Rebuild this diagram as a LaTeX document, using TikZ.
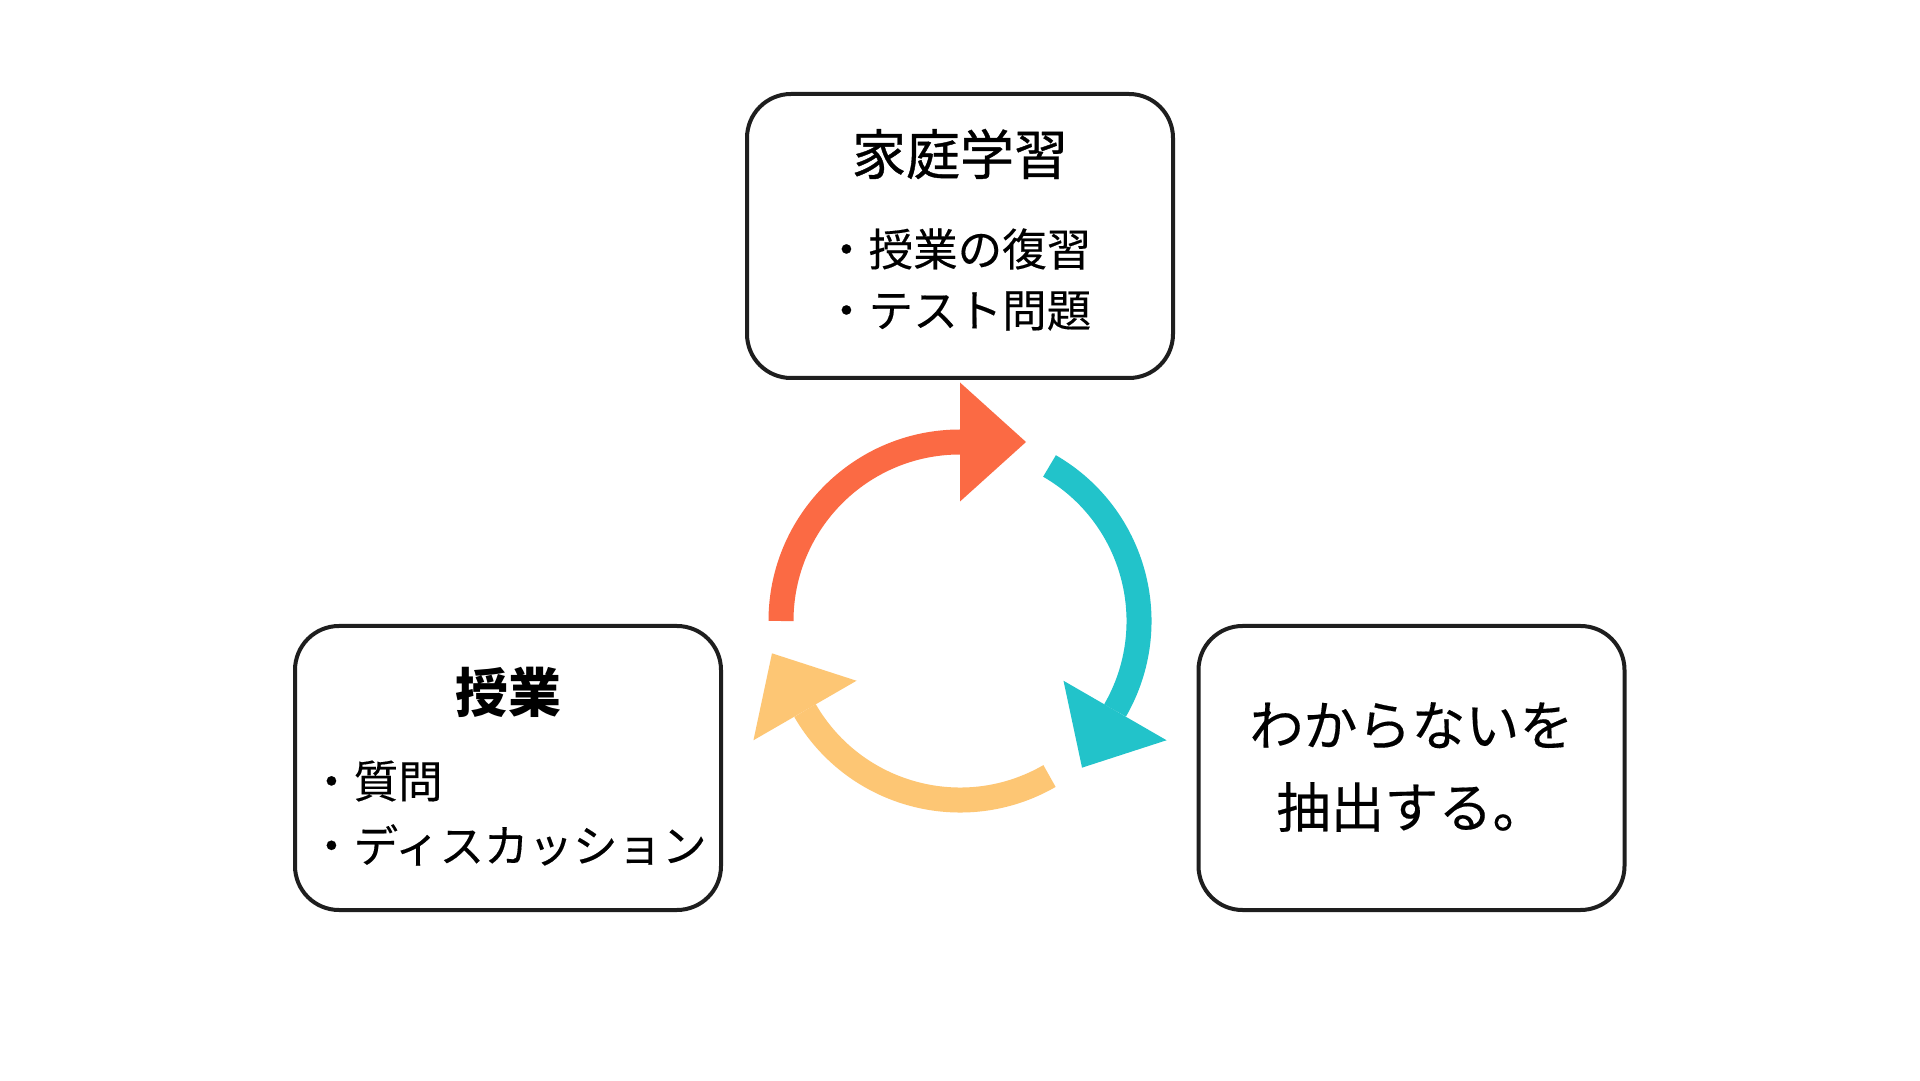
\documentclass[tikz,border=0pt]{standalone}
\usepackage{fontspec}
\usetikzlibrary{calc}
\newfontfamily\jp{Noto Sans CJK JP}
\newfontfamily\jpmed[FakeBold=0.7]{Noto Sans CJK JP}
\newfontfamily\jpitem[FakeBold=0.3]{Noto Sans CJK JP}
\definecolor{arcorange}{HTML}{FB6A44}
\definecolor{arcteal}{HTML}{22C3CA}
\definecolor{arcyellow}{HTML}{FDC674}
\definecolor{boxline}{HTML}{1E1E1E}
\tikzset{
  card/.style={draw=boxline, line width=4pt, rounded corners=44pt, fill=white,
    minimum width=426pt, minimum height=284pt, inner sep=0pt},
  title/.style={font=\jpmed\fontsize{54pt}{64pt}\selectfont, inner sep=0pt},
  boldtitle/.style={font=\jp\bfseries\fontsize{53pt}{64pt}\selectfont, inner sep=0pt},
  item/.style={font=\jpitem\fontsize{44.5pt}{52pt}\selectfont, inner sep=0pt, anchor=west},
  bigtext/.style={font=\jpitem\fontsize{54pt}{82pt}\selectfont, inner sep=0pt, align=center},
}
\begin{document}
\begin{tikzpicture}[x=1pt,y=1pt]
\fill[white] (0,0) rectangle (1920,1080);
\useasboundingbox (0,0) rectangle (1920,1080);

% boxes
\node[card] (home) at (960,844) {};
\node[card] (class) at (508,312) {};
\node[card] (find) at (1411.5,312) {};

% texts
\node[title] (hometitle) at (960,926) {家庭学習};
\node[item] (home1) at (824,831) {・授業の復習};
\node[item] (home2) at (824,769) {・テスト問題};

\node[boldtitle] (classtitle) at (508,388) {授業};
\node[item] (class1) at (309,299) {・質問};
\node[item] (class2) at (309,235) {・ディスカッション};

\node[bigtext] (findtext) at (1411.5,313) {わからないを\\抽出する。};

% cycle arrows
\coordinate (c) at (960,459);
\def\R{179}
\def\W{59.5}
\def\L{66}
% orange: 180 -> 90
\draw[line width=25pt, arcorange] ($(c)+(180:\R)$) arc[start angle=180, end angle=90, radius=\R];
\fill[arcorange] ($(c)+(90:\R-\W)$) -- ($(c)+(90:\R+\W)$) -- ($(c)+(90:\R)+(0:\L)$) -- cycle;
% teal: 60 -> -30
\draw[line width=25pt, arcteal] ($(c)+(60:\R)$) arc[start angle=60, end angle=-30, radius=\R];
\fill[arcteal] ($(c)+(-30:\R-\W)$) -- ($(c)+(-30:\R+\W)$) -- ($(c)+(-30:\R)+(-120:\L)$) -- cycle;
% yellow: -60 -> -150
\draw[line width=25pt, arcyellow] ($(c)+(-60:\R)$) arc[start angle=-60, end angle=-150, radius=\R];
\fill[arcyellow] ($(c)+(-150:\R-\W)$) -- ($(c)+(-150:\R+\W)$) -- ($(c)+(-150:\R)+(-240:\L)$) -- cycle;
\end{tikzpicture}
\end{document}
